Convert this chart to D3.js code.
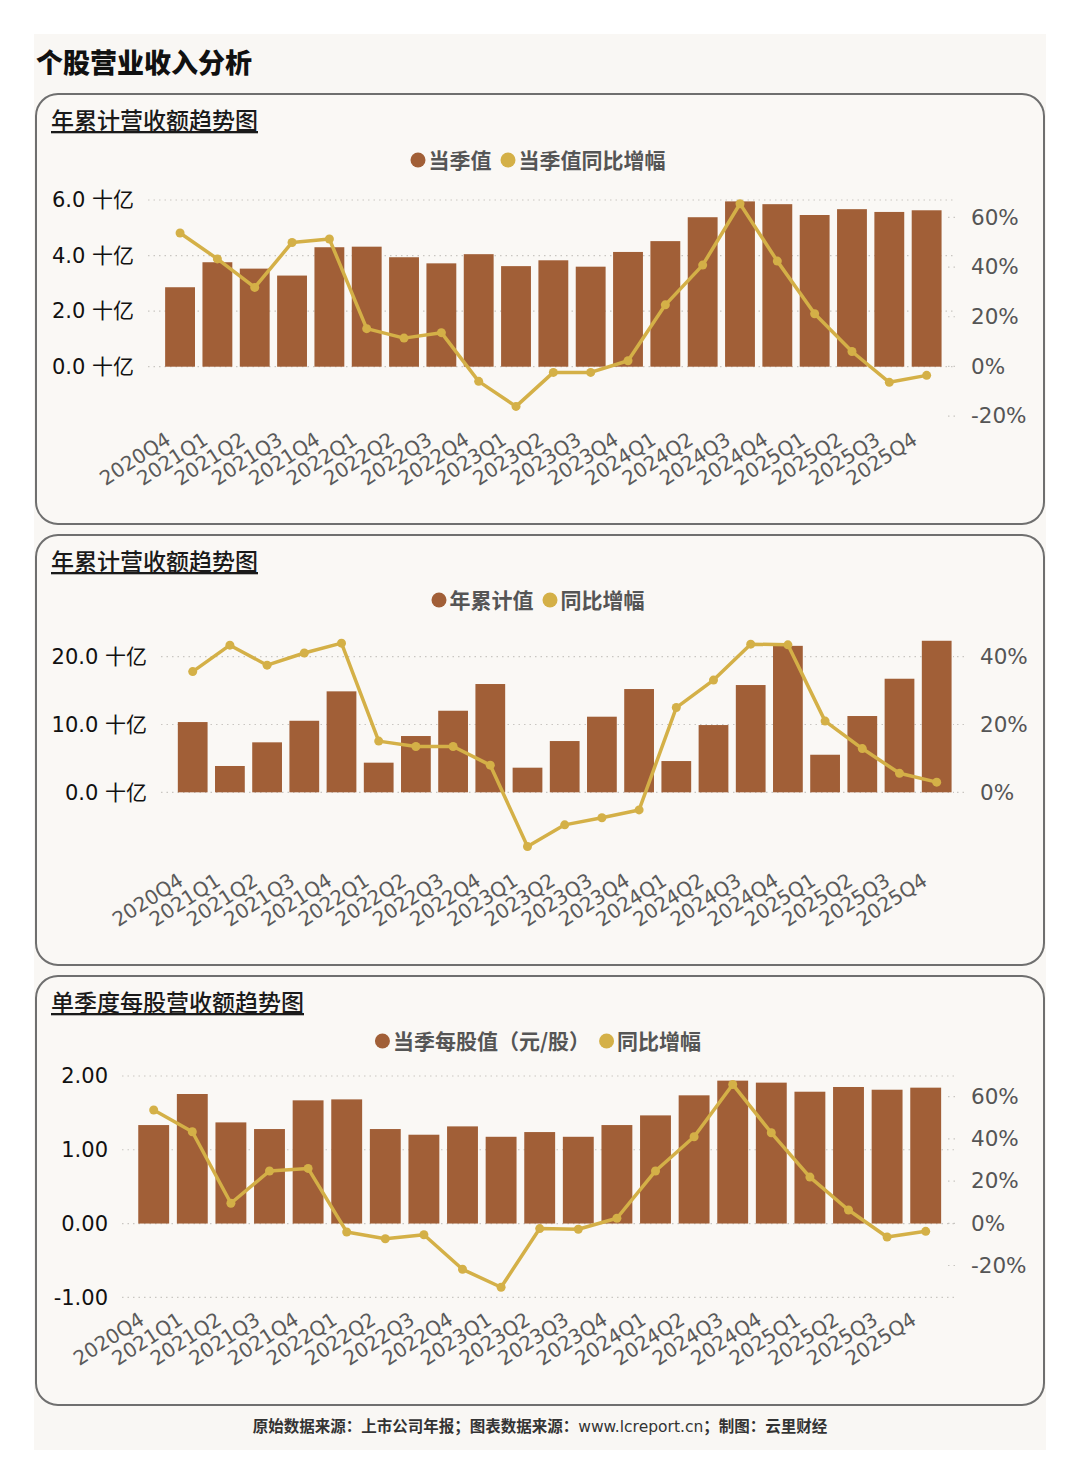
<!DOCTYPE html>
<html>
<head>
<meta charset="utf-8">
<script src="https://cdn.jsdelivr.net/npm/d3@7"></script>
<style>
  body { margin: 0; background: #fff; }
  text { font-family: "DejaVu Sans", "Noto Sans CJK SC", sans-serif; }
  .cjk { font-family: "Noto Sans CJK SC", sans-serif; }
</style>
</head>
<body>
<svg width="1080" height="1484"></svg>
<script>
// data
const quarters = ["2020Q4","2021Q1","2021Q2","2021Q3","2021Q4","2022Q1","2022Q2","2022Q3","2022Q4",
  "2023Q1","2023Q2","2023Q3","2023Q4","2024Q1","2024Q2","2024Q3","2024Q4","2025Q1","2025Q2","2025Q3","2025Q4"];

// panel 1: quarterly revenue (十亿) and yoy %
const quarterRevenue = [2.86,3.76,3.53,3.28,4.30,4.32,3.94,3.72,4.05,3.62,3.83,3.60,4.13,4.52,5.38,5.95,5.85,5.46,5.67,5.57,5.63];
const quarterYoY = [53.7,43.3,31.8,49.9,51.3,15.2,11.4,13.6,-6.0,-16.1,-2.4,-2.4,2.3,24.8,40.8,65.5,42.4,21.2,6.0,-6.4,-3.6];

// panel 2: year-to-date revenue (十亿) and yoy %
const ytdRevenue = [10.36,3.88,7.37,10.55,14.89,4.37,8.30,12.03,15.97,3.63,7.56,11.15,15.23,4.61,9.92,15.82,21.6,5.54,11.25,16.75,22.35];
const ytdYoY = [35.6,43.4,37.5,41.1,44.0,15.1,13.5,13.5,8.0,-16.0,-9.6,-7.5,-5.2,25.0,33.1,43.7,43.5,21.0,12.9,5.6,3.0];

// panel 3: quarterly revenue per share (元/股) and yoy %
const epsQuarter = [1.335,1.756,1.371,1.281,1.670,1.683,1.281,1.204,1.317,1.176,1.240,1.176,1.335,1.466,1.738,1.937,1.910,1.787,1.851,1.814,1.842];
const epsYoY = [53.7,43.4,9.5,24.8,26.0,-4.1,-7.3,-5.4,-21.8,-30.3,-2.5,-2.8,2.4,24.8,41.0,65.8,42.9,21.9,6.3,-6.5,-3.8];

// tick values
const revTicks = [0,2,4,6];
const ytdTicks = [0,10,20];
const epsTicks = [-1,0,1,2];
const pctTicks = [-20,0,20,40,60];
const ytdPctTicks = [0,20,40];

const barColor = "#a15f37";
const lineColor = "#d4b047";

const svg = d3.select("svg");

// page background
svg.append("rect").attr("x", 34).attr("y", 34).attr("width", 1012).attr("height", 1416).attr("fill", "#f9f7f4");

svg.append("text").attr("class", "cjk")
  .attr("x", 36).attr("y", 73)
  .attr("font-size", 27).attr("font-weight", 900).attr("fill", "#111")
  .text("个股营业收入分析");

svg.append("text").attr("class", "cjk")
  .attr("x", 540).attr("y", 1432)
  .attr("text-anchor", "middle").attr("font-size", 15.5).attr("font-weight", "bold").attr("fill", "#333")
  .call(t => {
    t.append("tspan").text("原始数据来源：上市公司年报；图表数据来源：");
    t.append("tspan").attr("font-weight", "normal").attr("font-family", "DejaVu Sans").text("www.lcreport.cn");
    t.append("tspan").text("；制图：云里财经");
  });

function drawPanel(cfg) {
  const g = svg.append("g");

  g.append("rect")
    .attr("x", 36).attr("y", cfg.top).attr("width", 1008).attr("height", cfg.h)
    .attr("rx", 22).attr("fill", "#faf8f5").attr("stroke", "#6f6f6f").attr("stroke-width", 2);

  g.append("text").attr("class", "cjk")
    .attr("x", 51).attr("y", cfg.top + 35)
    .attr("font-size", 23).attr("font-weight", 500).attr("fill", "#1a1a1a")
    .attr("text-decoration", "underline")
    .text(cfg.title);

  // legend
  const lg = g.append("g");
  let lx = 0;
  cfg.legend.forEach((d, i) => {
    const it = lg.append("g").attr("transform", `translate(${lx},0)`);
    it.append("circle").attr("cx", 7.5).attr("cy", 0).attr("r", 7.5).attr("fill", i === 0 ? barColor : lineColor);
    const t = it.append("text").attr("class", "cjk")
      .attr("x", 18).attr("y", 7.5)
      .attr("font-size", 21).attr("font-weight", "bold").attr("fill", "#555")
      .text(d);
    lx += 18 + t.node().getComputedTextLength() + 9;
  });
  lg.attr("transform", `translate(${538 - (lx - 9) / 2},${cfg.legendY})`);

  const x = d3.scaleBand().domain(quarters).range(cfg.xRange).paddingInner(0.2).paddingOuter(0.1);
  const yL = d3.scaleLinear().domain(cfg.lDomain).range(cfg.lRange);
  const yR = d3.scaleLinear().domain(cfg.rDomain).range(cfg.rRange);

  // gridlines
  g.append("g").selectAll("line").data(cfg.lTicks).join("line")
    .attr("x1", cfg.gridX[0]).attr("x2", cfg.gridX[1])
    .attr("y1", d => yL(d)).attr("y2", d => yL(d))
    .attr("stroke", "#c9c6c2").attr("stroke-width", 1.2).attr("stroke-dasharray", "1.5,4");

  g.append("g").selectAll("line").data(cfg.rTicks).join("line")
    .attr("x1", cfg.rTickX).attr("x2", cfg.rTickX + 10)
    .attr("y1", d => yR(d)).attr("y2", d => yR(d))
    .attr("stroke", "#c9c6c2").attr("stroke-width", 1.2).attr("stroke-dasharray", "1.5,4");

  // axes
  const axL = g.append("g")
    .attr("transform", `translate(${cfg.gridX[0]},0)`)
    .call(d3.axisLeft(yL).tickValues(cfg.lTicks).tickSize(0).tickPadding(14).tickFormat(cfg.lFormat));
  axL.select(".domain").remove();
  axL.selectAll("text").attr("font-size", 21).attr("fill", "#111").attr("font-family", null);

  const axR = g.append("g")
    .attr("transform", `translate(${cfg.rTickX + 10},0)`)
    .call(d3.axisRight(yR).tickValues(cfg.rTicks).tickSize(0).tickPadding(13).tickFormat(d => d + "%"));
  axR.select(".domain").remove();
  axR.selectAll("text").attr("font-size", 21.5).attr("fill", "#555").attr("font-family", null);

  const axB = g.append("g")
    .attr("transform", `translate(0,${cfg.xAxisY})`)
    .call(d3.axisBottom(x).tickSize(0).tickPadding(0));
  axB.select(".domain").remove();
  axB.selectAll("text")
    .attr("font-size", 20).attr("fill", "#5a5a5a").attr("font-family", null)
    .attr("text-anchor", "end")
    .attr("dy", null).attr("y", 0)
    .attr("transform", "translate(-8,0) rotate(-33)");

  // bars
  g.append("g").selectAll("rect").data(cfg.bars).join("rect")
    .attr("x", (d, i) => x(quarters[i]))
    .attr("width", x.bandwidth())
    .attr("y", d => Math.min(yL(d), yL(0)))
    .attr("height", d => Math.abs(yL(0) - yL(d)))
    .attr("fill", barColor);

  // yoy line
  const cx = (d, i) => x(quarters[i]) + x.bandwidth() / 2;
  g.append("path")
    .datum(cfg.line)
    .attr("fill", "none").attr("stroke", lineColor).attr("stroke-width", 3.5).attr("stroke-linejoin", "round")
    .attr("d", d3.line().x(cx).y(d => yR(d)));

  g.append("g").selectAll("circle").data(cfg.line).join("circle")
    .attr("cx", cx).attr("cy", d => yR(d)).attr("r", 4.5).attr("fill", lineColor);
}

drawPanel({
  top: 94, h: 430,
  title: "年累计营收额趋势图",
  legend: ["当季值", "当季值同比增幅"], legendY: 160,
  xRange: [161.4, 945.3],
  lDomain: [0, 6], lRange: [366.7, 200], lTicks: revTicks, lFormat: d => d.toFixed(1) + " 十亿",
  rDomain: [-20, 60], rRange: [416.1, 217.4], rTicks: pctTicks,
  gridX: [148, 954], rTickX: 948,
  xAxisY: 443,
  bars: quarterRevenue, line: quarterYoY
});

drawPanel({
  top: 535, h: 430,
  title: "年累计营收额趋势图",
  legend: ["年累计值", "同比增幅"], legendY: 600,
  xRange: [174.1, 955.3],
  lDomain: [0, 20], lRange: [792.3, 656.7], lTicks: ytdTicks, lFormat: d => d.toFixed(1) + " 十亿",
  rDomain: [0, 40], rRange: [792.3, 656.7], rTicks: ytdPctTicks,
  gridX: [161, 954], rTickX: 957,
  xAxisY: 884,
  bars: ytdRevenue, line: ytdYoY
});

drawPanel({
  top: 976, h: 429,
  title: "单季度每股营收额趋势图",
  legend: ["当季每股值（元/股）", "同比增幅"], legendY: 1041,
  xRange: [134.4, 945],
  lDomain: [-1, 2], lRange: [1297.3, 1076], lTicks: epsTicks, lFormat: d => d.toFixed(2),
  rDomain: [-20, 60], rRange: [1265.5, 1096.7], rTicks: pctTicks,
  gridX: [122, 955], rTickX: 948,
  xAxisY: 1323,
  bars: epsQuarter, line: epsYoY
});
</script>
</body>
</html>
